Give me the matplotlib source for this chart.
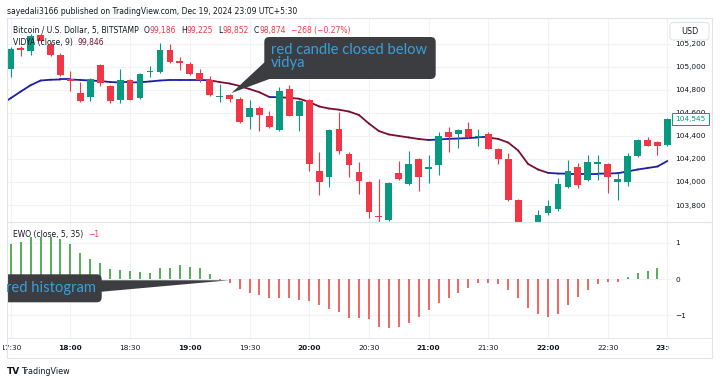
import matplotlib
matplotlib.use("Agg")
import matplotlib.pyplot as plt
import numpy as np
from matplotlib.collections import LineCollection
from matplotlib.patches import FancyBboxPatch, Polygon, Rectangle
from matplotlib.transforms import blended_transform_factory

# ---------------- data ----------------
time_labels = ["17:30", "18:00", "18:30", "19:00", "19:30", "20:00", "20:30",
               "21:00", "21:30", "22:00", "22:30", "23:00"]
time_label_bars = [0, 6, 12, 18, 24, 30, 36, 42, 48, 54, 60, 66]

price_ticks = [103800, 104000, 104200, 104400, 104600, 104800, 105000, 105200]
ewo_ticks = [-1, 0, 1]
ewo_tick_labels = ["\u22121", "0", "1"]

# 5-minute candles, 17:30 .. 23:00
open_ = [104983, 105162, 105139, 105272, 105191, 105104, 104896, 104772, 104740, 105012,
         104830, 104708, 104882, 104728, 104951, 104951, 105142, 105047, 105026, 104945,
         104882, 104741, 104752, 104720, 104561, 104642, 104570, 104448, 104807, 104575,
         104714, 104092, 104043, 104459, 104245, 104086, 103997, 103705, 103672, 104078,
         103982, 104199, 104117, 104144, 104431, 104419, 104459, 104387, 104416, 104289,
         104199, 103843, 103620, 103640, 103731, 103765, 103954, 104130, 104014, 104160,
         104156, 104000, 104000, 104223, 104361, 104347, 104323]
high_ = [105168, 105177, 105284, 105292, 105214, 105119, 104960, 104865, 104902, 105023,
         104841, 104980, 104893, 104945, 105009, 105206, 105197, 105082, 105041, 104983,
         104917, 104853, 104763, 104737, 104714, 104659, 104613, 104824, 104844, 104711,
         104724, 104257, 104459, 104604, 104260, 104173, 104008, 104028, 104000, 104184,
         104266, 104208, 104231, 104431, 104479, 104459, 104520, 104459, 104433, 104295,
         104251, 103848, 103640, 103759, 103846, 104034, 104193, 104164, 104231, 104231,
         104164, 104078, 104251, 104373, 104390, 104355, 104552]
low_ = [104911, 105090, 105104, 105214, 105093, 104919, 104792, 104698, 104705, 104830,
        104685, 104682, 104707, 104720, 104913, 104945, 105032, 104971, 104928, 104867,
        104750, 104691, 104694, 104512, 104462, 104439, 104468, 104442, 104568, 104439,
        104092, 103889, 103956, 104243, 104040, 103895, 103687, 103652, 103665, 104017,
        103974, 103919, 103991, 104058, 104257, 104295, 104381, 104315, 104286, 104158,
        103839, 103590, 103560, 103600, 103713, 103748, 103948, 103948, 104008, 104020,
        103904, 103846, 103962, 104216, 104308, 104231, 104315]
close_ = [105156, 105149, 105264, 105226, 105104, 104925, 104873, 104705, 104896, 104856,
          104705, 104882, 104714, 104937, 104965, 105142, 105041, 105032, 104937, 104885,
          104757, 104750, 104722, 104520, 104642, 104578, 104474, 104792, 104575, 104705,
          104156, 103997, 104448, 104266, 104144, 104011, 103737, 103696, 103991, 104028,
          104158, 104046, 104125, 104401, 104387, 104453, 104390, 104396, 104289, 104202,
          103846, 103620, 103600, 103711, 103789, 103982, 104092, 103976, 104173, 104169,
          104043, 104028, 104228, 104361, 104315, 104309, 104545]

# VIDYA(close, 9): starts one bar earlier (17:25) so the line reaches the left edge
vidya = [104669, 104727, 104784, 104839, 104880, 104887, 104889, 104889, 104885, 104880,
         104876, 104867, 104863, 104863, 104865, 104872, 104880, 104885, 104885, 104885,
         104885, 104882, 104867, 104854, 104833, 104806, 104778, 104737, 104735, 104730,
         104722, 104694, 104655, 104637, 104627, 104611, 104581, 104507, 104442, 104412,
         104399, 104386, 104373, 104364, 104368, 104374, 104377, 104381, 104386, 104386,
         104373, 104342, 104273, 104156, 104108, 104079, 104073, 104072, 104072, 104072,
         104072, 104073, 104076, 104091, 104108, 104121, 104134, 104182]
# u = blue (up), d = maroon (down)
vidya_trend = "uuuuuuuuuuuuuuuuuuuuuudddddduddddddddddddddduuuuuudddddduuuuuuuuuuuu"

ewo = [0.96, 1.03, 1.15, 1.17, 1.15, 1.09, 0.96, 0.71, 0.55, 0.43,
       0.28, 0.25, 0.22, 0.19, 0.17, 0.29, 0.31, 0.39, 0.34, 0.29,
       0.14, -0.02, -0.12, -0.28, -0.38, -0.44, -0.53, -0.51, -0.51, -0.58,
       -0.60, -0.72, -0.84, -0.90, -1.08, -1.08, -1.10, -1.31, -1.36, -1.31,
       -1.22, -1.06, -0.85, -0.67, -0.51, -0.38, -0.24, -0.10, -0.12, -0.14,
       -0.30, -0.53, -0.81, -0.96, -1.06, -0.96, -0.72, -0.49, -0.30, -0.14,
       -0.09, -0.08, 0.06, 0.16, 0.22, 0.31, np.nan]

# ---------------- style ----------------
GREEN = "#089981"
RED = "#f23645"
H_GREEN = "#3ea644"
H_RED = "#ef5350"
V_BLUE = "#1b1fa8"
V_MAROON = "#7a0f2e"
TXT = "#131722"
GRID = "#f0f2f5"
FRAME = "#e0e3eb"
CALL_BG = "#3c3d41"
CALL_TXT = "#36a0de"

plt.rcParams['font.family'] = ['DejaVu Sans']

W, H = 720, 383
fig = plt.figure(figsize=(W / 100, H / 100), dpi=100)


def rect(x0, y0, x1, y1):
    return [x0 / W, 1 - y1 / H, (x1 - x0) / W, (y1 - y0) / H]


BAR0_PX, BAR_PX = 10.7, 9.95
PLOT_L, PLOT_R = 7, 671


def bar_at(px):
    return (px - BAR0_PX) / BAR_PX


ax1 = fig.add_axes(rect(PLOT_L, 18, PLOT_R, 222))
ax2 = fig.add_axes(rect(PLOT_L, 222, PLOT_R, 338))
for ax in (ax1, ax2):
    ax.set_xlim(bar_at(PLOT_L), bar_at(PLOT_R))
    for s in ax.spines.values():
        s.set_visible(False)
    ax.set_xticks(time_label_bars)
    ax.tick_params(axis='x', bottom=False, labelbottom=False)
    ax.yaxis.tick_right()
    ax.tick_params(axis='y', length=0, pad=2.9, labelsize=5.3, labelcolor=TXT)
    ax.grid(True, color=GRID, lw=0.8)
    ax.set_axisbelow(True)

ax1.set_ylim(103652.5, 105422.6)
ax1.set_yticks(price_ticks)
ax1.set_yticklabels([f"{p:,}" for p in price_ticks])
ax2.set_ylim(-1.625, 1.570)
ax2.set_yticks(ewo_ticks)
ax2.set_yticklabels(ewo_tick_labels)

# candles
idx = np.arange(len(close_))
o, h, l, c = (np.array(v, dtype=float) for v in (open_, high_, low_, close_))
up = c >= o
ccol = np.where(up, GREEN, RED)
ax1.vlines(idx, l, h, colors=ccol, lw=0.8, zorder=3)
body = np.abs(c - o)
bh = np.maximum(body, 9)
bb = np.minimum(o, c) - (bh - body) / 2
ax1.bar(idx, bh, bottom=bb, width=0.68, color=ccol, lw=0, zorder=4)

# VIDYA
vx = np.arange(-1, len(close_))
pts = np.column_stack([vx, vidya])
segs = np.stack([pts[:-1], pts[1:]], axis=1)
seg_cols = [V_BLUE if t == 'u' else V_MAROON for t in vidya_trend[1:]]
lc = LineCollection(segs, colors=seg_cols, linewidths=1.3, zorder=2.5, capstyle='round')
ax1.add_collection(lc)

# EWO histogram
ev = np.array(ewo, dtype=float)
ecol = np.where(ev >= 0, H_GREEN, H_RED)
ax2.vlines(idx, 0, ev, colors=ecol, lw=1.25, zorder=3)

# time axis labels (clipped)
axt = fig.add_axes(rect(3, 338, 669, 358))
axt.set_xlim(bar_at(3), bar_at(669))
axt.set_ylim(0, 1)
axt.axis('off')
for b, lab in zip(time_label_bars, time_labels):
    axt.text(b, 0.5, lab, ha='center', va='center', fontsize=5.3, color=TXT,
             fontweight='bold' if lab.endswith(':00') else 'normal', clip_on=True)

# overlay in pixel coordinates
ov = fig.add_axes([0, 0, 1, 1], zorder=10)
ov.set_xlim(0, W)
ov.set_ylim(H, 0)
ov.axis('off')

ov.plot([7, 712, 712, 7, 7], [18, 18, 358, 358, 18], color=FRAME, lw=0.8)
ov.plot([7, 712], [222, 222], color=FRAME, lw=0.8)
ov.plot([7, 712], [338, 338], color=FRAME, lw=0.6)

clip = Rectangle((PLOT_L, 18), PLOT_R - PLOT_L, 320, transform=ov.transData)

CALL_FONT = ['Lato', 'DejaVu Sans']

# callout 1
b1 = FancyBboxPatch((264.3, 37), 171.4, 42, boxstyle="round,pad=0,rounding_size=5",
                    fc=CALL_BG, ec='none')
t1 = Polygon([(264.8, 62), (231.5, 93), (270, 78.8)], closed=True, fc=CALL_BG, ec='none')
for p in (b1, t1):
    ov.add_patch(p)
    p.set_clip_path(clip)
ov.text(271, 49.5, "red candle closed below", color=CALL_TXT, fontsize=10.6,
        family=CALL_FONT, va='center', ha='left')
ov.text(271, 63.5, "vidya", color=CALL_TXT, fontsize=10.6,
        family=CALL_FONT, va='center', ha='left')

# callout 2
b2 = FancyBboxPatch((-10, 274.3), 111.7, 28, boxstyle="round,pad=0,rounding_size=5",
                    fc=CALL_BG, ec='none')
t2 = Polygon([(100, 280.3), (229, 280.3), (100.5, 291.8)], closed=True, fc=CALL_BG, ec='none')
for p in (b2, t2):
    ov.add_patch(p)
    p.set_clip_path(clip)
tt = ov.text(6, 288.3, "red histogram", color=CALL_TXT, fontsize=10.6,
             family=CALL_FONT, va='center', ha='left')
tt.set_clip_path(clip)

# header
ov.text(7, 11, "sayedali3166 published on TradingView.com, Dec 19, 2024 23:09 UTC+5:30",
        fontsize=5.5, color=TXT, va='center', ha='left')

renderer = fig.canvas.get_renderer()


def draw_runs(x, y, runs, size):
    for s, col, gap in runs:
        t = ov.text(x, y, s, color=col, fontsize=size, va='center', ha='left')
        x += t.get_window_extent(renderer=renderer).width + gap


draw_runs(13, 30.7, [("Bitcoin / U.S. Dollar, 5, BITSTAMP", TXT, 5),
                     ("O", TXT, 0), ("99,186", RED, 5),
                     ("H", TXT, 0), ("99,225", RED, 5),
                     ("L", TXT, 0), ("98,852", RED, 5),
                     ("C", TXT, 0), ("98,874", RED, 5),
                     ("\u2212268 (\u22120.27%)", RED, 0)], 5.5)
draw_runs(13, 43, [("VIDYA (close, 9)", TXT, 5), ("99,846", V_MAROON, 0)], 5.5)
draw_runs(13, 234.3, [("EWO (close, 5, 35)", TXT, 5), ("\u22121", RED, 0)], 5.5)

# USD box
ov.add_patch(FancyBboxPatch((670, 22.5), 39, 17.5, boxstyle="round,pad=0,rounding_size=3",
                            fc='white', ec=FRAME, lw=0.8))
ov.text(689.5, 31.2, "USD", fontsize=5.8, color=TXT, ha='center', va='center')

# last price label
trans = blended_transform_factory(ov.transData, ax1.transData)
ov.text(675, close_[-1], f"{close_[-1]:,}", transform=trans, fontsize=5.3, color=GREEN,
        ha='left', va='center',
        bbox=dict(boxstyle='square,pad=0.45', fc='white', ec=GREEN, lw=0.7))

# footer
ov.text(7, 371, "TV", fontsize=6.5, fontweight='bold', color=TXT, ha='left', va='center')
ov.text(21, 371, "TradingView", fontsize=5.8, color=TXT, ha='left', va='center')

fig.savefig("out.png", dpi=100)
